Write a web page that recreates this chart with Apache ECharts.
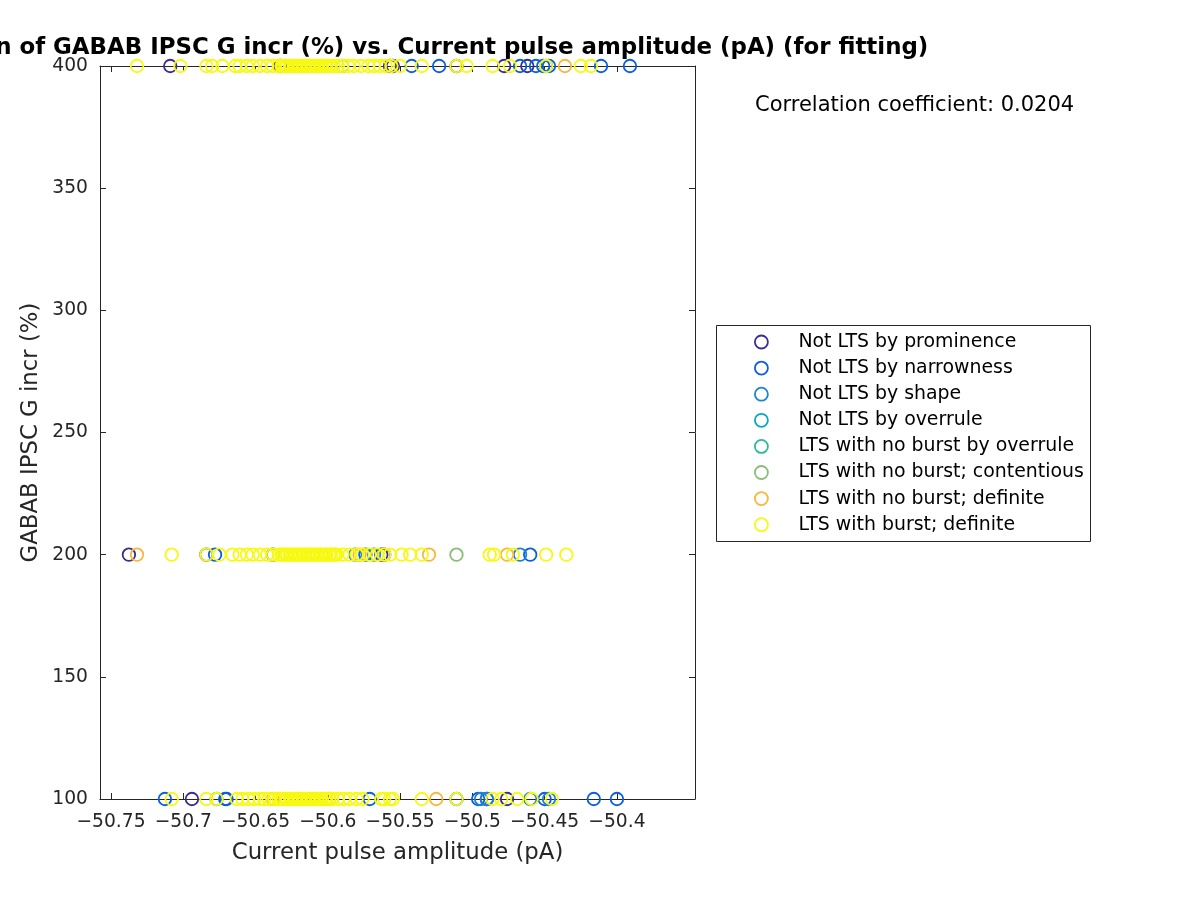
<!DOCTYPE html>
<html>
<head>
<meta charset="utf-8">
<script src="https://cdn.jsdelivr.net/npm/echarts@6/dist/echarts.min.js"></script>
<style>html,body{margin:0;padding:0;background:#fff;}#c{width:1200px;height:900px;}</style>
</head>
<body>
<div id="c"></div>
<script>
// ---- data (x = current pulse amplitude, pA; y = GABAB IPSC G incr, %) ----
const seriesNames = [
  'Not LTS by prominence',
  'Not LTS by narrowness',
  'Not LTS by shape',
  'Not LTS by overrule',
  'LTS with no burst by overrule',
  'LTS with no burst; contentious',
  'LTS with no burst; definite',
  'LTS with burst; definite'
];
const seriesColors = ['#3b2c8e','#0b5ee0','#1b84d8','#0aa6c8','#2eb8a0','#88bf76','#f8b83c','#f7f911'];

const xTicks = [-50.75, -50.7, -50.65, -50.6, -50.55, -50.5, -50.45, -50.4];
const yTicks = [100, 150, 200, 250, 300, 350, 400];

// x values per series, per y-level
const promX400 = [-50.709, -50.633, -50.557, -50.555, -50.511, -50.478, -50.462];
const promX200 = [-50.7376, -50.684, -50.638, -50.563, -50.561];
const promX100 = [-50.694, -50.490, -50.476];

const narrX400 = [-50.542, -50.523, -50.467, -50.456, -50.451, -50.447, -50.411, -50.391];
const narrX200 = [-50.678, -50.460, -50.574];
const narrX100 = [-50.7127, -50.671, -50.670, -50.571, -50.511, -50.496, -50.450, -50.416, -50.400];

const shapeX400 = [-50.449, -50.590];
const shapeX200 = [-50.467, -50.568, -50.581];
const shapeX100 = [-50.677, -50.490, -50.460, -50.447, -50.494];

const overX400 = [];
const overX200 = [];
const overX100 = [];

const nbOverX400 = [];
const nbOverX200 = [];
const nbOverX100 = [];

const contX400 = [];
const contX200 = [-50.511];
const contX100 = [];

const nbDefX400 = [-50.436];
const nbDefX200 = [-50.732, -50.578, -50.530, -50.476];
const nbDefX100 = [-50.638, -50.599, -50.525];

const burstX400 = [-50.732, -50.702, -50.684, -50.680, -50.673, -50.664, -50.661, -50.656, -50.652, -50.647,
  -50.642, -50.638, -50.634, -50.632, -50.631, -50.629, -50.628, -50.626, -50.625, -50.623, -50.622, -50.620, -50.619,
  -50.617, -50.616, -50.614, -50.613, -50.611, -50.610, -50.608, -50.607, -50.605, -50.604, -50.602, -50.601,
  -50.599, -50.598, -50.596, -50.593, -50.590, -50.586, -50.582, -50.577, -50.572, -50.568, -50.564, -50.560,
  -50.556, -50.550, -50.535, -50.511, -50.504, -50.486, -50.474, -50.449, -50.425, -50.418];
const burstX200 = [-50.708, -50.684, -50.675, -50.666, -50.661, -50.656, -50.652, -50.647, -50.642, -50.638,
  -50.634, -50.632, -50.631, -50.629, -50.628, -50.626, -50.625, -50.623, -50.622, -50.620, -50.619, -50.617, -50.616,
  -50.614, -50.613, -50.611, -50.610, -50.608, -50.607, -50.605, -50.604, -50.602, -50.601, -50.599, -50.598,
  -50.596, -50.595, -50.594, -50.590, -50.585, -50.580, -50.576, -50.571, -50.566, -50.561, -50.557, -50.549, -50.543,
  -50.535, -50.488, -50.485, -50.472, -50.449, -50.435];
const burstX100 = [-50.708, -50.684, -50.677, -50.663, -50.659, -50.655, -50.651, -50.647, -50.644, -50.641,
  -50.637, -50.634, -50.632, -50.631, -50.629, -50.628, -50.626, -50.625, -50.623, -50.622, -50.620, -50.619, -50.617,
  -50.616, -50.614, -50.613, -50.611, -50.610, -50.608, -50.607, -50.605, -50.604, -50.602, -50.601, -50.599,
  -50.597, -50.593, -50.589, -50.585, -50.580, -50.576, -50.563, -50.561, -50.557, -50.555, -50.535, -50.511,
  -50.486, -50.480, -50.469, -50.459, -50.445];

const seriesX = [
  [promX100, promX200, promX400],
  [narrX100, narrX200, narrX400],
  [shapeX100, shapeX200, shapeX400],
  [overX100, overX200, overX400],
  [nbOverX100, nbOverX200, nbOverX400],
  [contX100, contX200, contX400],
  [nbDefX100, nbDefX200, nbDefX400],
  [burstX100, burstX200, burstX400]
];
const yLevels = [100, 200, 400];

const titleText = 'Correlation of GABAB IPSC G incr (%) vs. Current pulse amplitude (pA) (for fitting)';
const xLabel = 'Current pulse amplitude (pA)';
const yLabel = 'GABAB IPSC G incr (%)';
const corrText = 'Correlation coefficient: 0.0204';

// ---- chart ----
const FONT = 'DejaVu Sans';
const AX = '#262626';
const chart = echarts.init(document.getElementById('c'), null, {renderer: 'canvas'});

const series = seriesNames.map((name, i) => {
  const data = [];
  seriesX[i].forEach((xs, k) => xs.forEach(x => data.push([x, yLevels[k]])));
  return {
    name, type: 'scatter', data, symbol: 'circle', symbolSize: 12.5,
    itemStyle: {color: 'rgba(0,0,0,0)', borderColor: seriesColors[i], borderWidth: 1.8, opacity: 1},
    emphasis: {disabled: true}, silent: true, animation: false, clip: false
  };
});

const gridPos = {left: 100, top: 66, width: 595, height: 733};
const xMin = -50.7576, xMax = -50.346;

const option = {
  animation: false,
  grid: Object.assign({containLabel: false, show: false}, gridPos),
  xAxis: [
    {type: 'value', min: xMin, max: xMax, position: 'bottom',
     name: xLabel, nameLocation: 'middle', nameGap: 43,
     nameTextStyle: {fontFamily: FONT, fontSize: 22.8, color: AX},
     axisLine: {show: true, lineStyle: {color: AX, width: 1}},
     axisTick: {show: true, inside: true, length: 6, customValues: xTicks, lineStyle: {color: AX}},
     axisLabel: {show: true, customValues: xTicks, margin: 14, fontFamily: FONT, fontSize: 18.7, color: AX,
       formatter: v => String(Math.round(v * 100) / 100).replace('-', '\u2212')},
     splitLine: {show: false}},
    {type: 'value', min: xMin, max: xMax, position: 'top',
     axisLine: {show: true, onZero: false, lineStyle: {color: AX, width: 1}},
     axisTick: {show: true, inside: true, length: 6, customValues: xTicks, lineStyle: {color: AX}},
     axisLabel: {show: false}, splitLine: {show: false}}
  ],
  yAxis: [
    {type: 'value', min: 100, max: 400, interval: 50, position: 'left',
     name: yLabel, nameLocation: 'middle', nameGap: 57,
     nameTextStyle: {fontFamily: FONT, fontSize: 22.8, color: AX},
     axisLine: {show: true, onZero: false, lineStyle: {color: AX, width: 1}},
     axisTick: {show: true, inside: true, length: 6, lineStyle: {color: AX}},
     axisLabel: {show: true, margin: 12, fontFamily: FONT, fontSize: 18.7, color: AX},
     splitLine: {show: false}},
    {type: 'value', min: 100, max: 400, interval: 50, position: 'right',
     axisLine: {show: true, onZero: false, lineStyle: {color: AX, width: 1}},
     axisTick: {show: true, inside: true, length: 6, lineStyle: {color: AX}},
     axisLabel: {show: false}, splitLine: {show: false}}
  ],
  legend: {
    orient: 'vertical', left: 754, top: 332.5, padding: 0,
    itemWidth: 64, itemHeight: 13, itemGap: 7.1,
    selectedMode: false,
    textStyle: {fontFamily: FONT, fontSize: 18.9, color: '#000'},
    data: seriesNames.map((n, i) => ({name: n, icon: 'circle',
      itemStyle: {color: 'rgba(0,0,0,0)', borderColor: seriesColors[i], borderWidth: 1.8}}))
  },
  graphic: [
    {type: 'rect', shape: {x: 716.5, y: 325.5, width: 374, height: 216}, silent: true,
     style: {fill: 'none', stroke: AX, lineWidth: 1}, z: 0},
    {type: 'text', x: 755, y: 105.5, silent: true,
     style: {text: corrText, fontFamily: FONT, fontSize: 21, fill: '#000', textAlign: 'left', textVerticalAlign: 'middle'}},
    {type: 'text', x: 397.5, y: 48.5, silent: true,
     style: {text: titleText, fontFamily: FONT, fontSize: 22.9, fontWeight: 'bold', fill: '#000', textAlign: 'center', textVerticalAlign: 'middle'}}
  ],
  series
};
chart.setOption(option);
</script>
</body>
</html>
